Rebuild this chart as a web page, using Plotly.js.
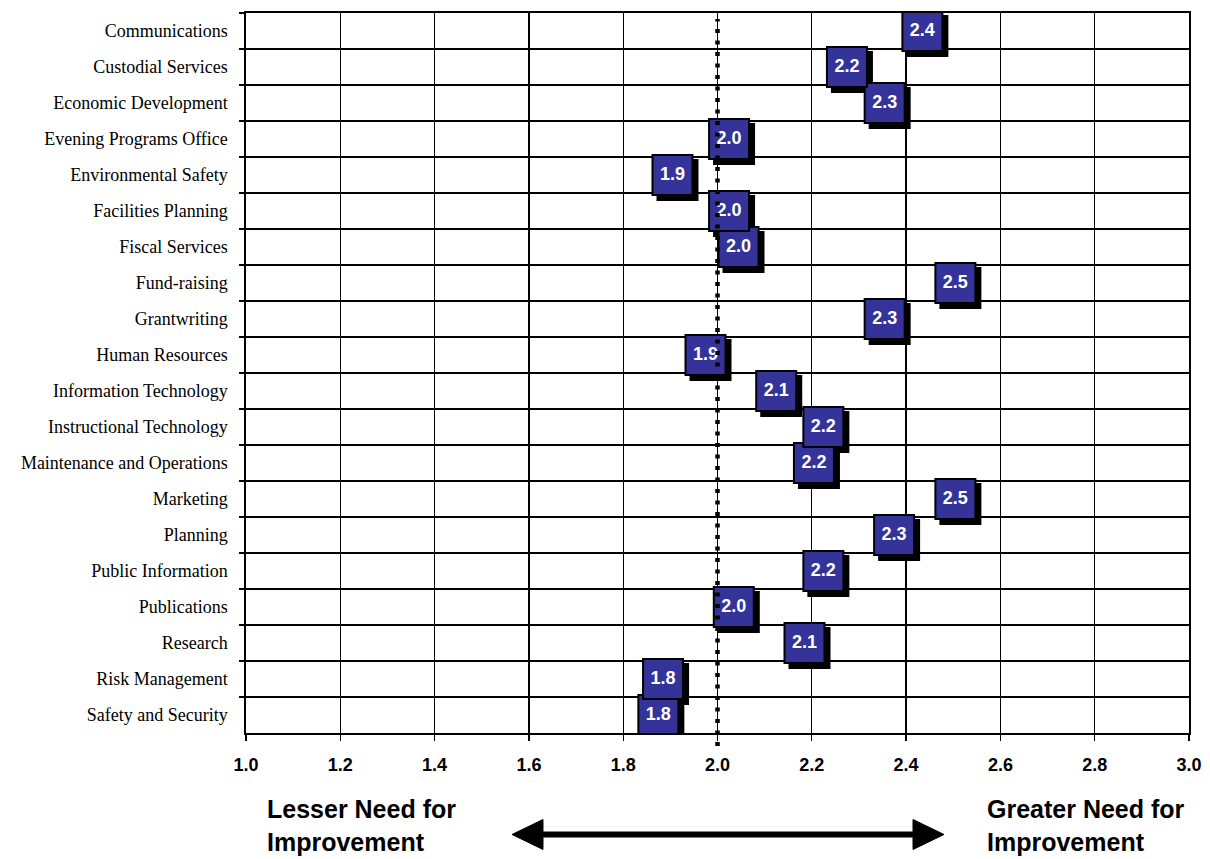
<!DOCTYPE html>
<html>
<head>
<meta charset="utf-8">
<script src="https://cdn.plot.ly/plotly-3.0.1.min.js"></script>
<style>
  html, body { margin: 0; padding: 0; background: #ffffff; }
  #chart { width: 1210px; height: 859px; }
</style>
</head>
<body>
<div id="chart"></div>
<script>
// Departments, listed top to bottom
const categories = [
  'Communications', 'Custodial Services', 'Economic Development',
  'Evening Programs Office', 'Environmental Safety', 'Facilities Planning',
  'Fiscal Services', 'Fund-raising', 'Grantwriting', 'Human Resources',
  'Information Technology', 'Instructional Technology',
  'Maintenance and Operations', 'Marketing', 'Planning',
  'Public Information', 'Publications', 'Research', 'Risk Management',
  'Safety and Security'
];

// Mean rating of need for improvement (1 = lesser, 3 = greater)
const scores = [
  2.39, 2.23, 2.31, 1.98, 1.86, 1.98, 2.00, 2.46, 2.31, 1.93,
  2.08, 2.18, 2.16, 2.46, 2.33, 2.18, 1.99, 2.14, 1.84, 1.83
];

const xTicks = [1.0, 1.2, 1.4, 1.6, 1.8, 2.0, 2.2, 2.4, 2.6, 2.8, 3.0];
const midpoint = 2.0;
const lowLabel = 'Lesser Need for<br>Improvement';
const highLabel = 'Greater Need for<br>Improvement';

// Frame geometry
const W = 1210, H = 859;
const margin = { l: 246, r: 21, t: 13, b: 126 };
const plotW = W - margin.l - margin.r;
const plotH = H - margin.t - margin.b;
const xRange = [1, 3];
const pxToX = px => px * (xRange[1] - xRange[0]) / plotW;
const rowPx = plotH / categories.length;

// Label boxes sit to the right of each point, with a drop shadow
const boxSize = 40;
const boxShift = pxToX(boxSize / 2 + 1);
const shadowShift = pxToX(boxSize / 2 + 6);
const shadowDrop = 5 / rowPx;

const yRange = [categories.length - 0.5, -0.5];

// Draw upper rows last so they sit on top where boxes overlap
const order = categories.map((_, i) => i).reverse();
const ptsY = order.map(i => categories[i]);
const ptsX = order.map(i => scores[i]);
const ptsText = order.map(i => scores[i].toFixed(1));

const shadowTrace = {
  type: 'scatter', mode: 'markers',
  x: ptsX, y: ptsY, xaxis: 'x2', yaxis: 'y2',
  marker: { symbol: 'square', size: boxSize + 2, color: '#000000', line: { width: 0 } },
  hoverinfo: 'skip', showlegend: false
};

const boxTrace = {
  type: 'scatter', mode: 'markers+text',
  x: ptsX, y: ptsY, xaxis: 'x3', yaxis: 'y',
  text: ptsText, textposition: 'middle center',
  textfont: { family: 'Liberation Sans, Arial, sans-serif', size: 18, color: '#ffffff', weight: 'bold' },
  marker: { symbol: 'square', size: boxSize, color: '#333399', line: { width: 2, color: '#000000' } },
  hovertemplate: '%{y}: %{x:.2f}<extra></extra>', showlegend: false
};

// Paper coordinates from frame pixels (for the legend arrow below the axis)
const px2paperX = px => (px - margin.l) / plotW;
const px2paperY = py => (margin.t + plotH - py) / plotH;

const arrowY = 834.5;
const arrowLeft = 512, arrowRight = 944, headLen = 31, headHalf = 15;

function tri(tipX, baseX) {
  const p = (x, y) => px2paperX(x).toFixed(5) + ',' + px2paperY(y).toFixed(5);
  return 'M' + p(tipX, arrowY) + ' L' + p(baseX, arrowY - headHalf) + ' L' + p(baseX, arrowY + headHalf) + ' Z';
}

const layout = {
  width: W, height: H,
  margin: margin,
  paper_bgcolor: '#ffffff', plot_bgcolor: '#ffffff',
  showlegend: false,
  font: { family: 'Liberation Sans, Arial, sans-serif', color: '#000000' },
  xaxis: {
    range: xRange, tickvals: xTicks, ticktext: xTicks.map(v => v.toFixed(1)),
    showgrid: true, gridcolor: '#000000', gridwidth: 1.4,
    showline: true, linecolor: '#000000', linewidth: 1.6, mirror: true,
    ticks: 'outside', ticklen: 6, tickwidth: 1.4, tickcolor: '#000000',
    ticklabelstandoff: 9,
    tickfont: { family: 'Liberation Sans, Arial, sans-serif', size: 18, weight: 'bold', color: '#000000' },
    zeroline: false, fixedrange: true
  },
  xaxis2: { overlaying: 'x', range: [xRange[0] - shadowShift, xRange[1] - shadowShift], visible: false, fixedrange: true },
  xaxis3: { overlaying: 'x', range: [xRange[0] - boxShift, xRange[1] - boxShift], visible: false, fixedrange: true },
  yaxis: {
    type: 'category', categoryorder: 'array', categoryarray: categories,
    range: yRange, tickson: 'boundaries',
    showgrid: true, gridcolor: '#000000', gridwidth: 1.4,
    showline: true, linecolor: '#000000', linewidth: 1.6, mirror: true,
    ticks: 'outside', ticklen: 5, tickwidth: 1.4, tickcolor: '#000000',
    ticklabelstandoff: 13,
    tickfont: { family: 'Liberation Serif, Times New Roman, serif', size: 18, color: '#000000' },
    zeroline: false, fixedrange: true
  },
  yaxis2: {
    type: 'category', categoryorder: 'array', categoryarray: categories,
    overlaying: 'y', range: [yRange[0] - shadowDrop, yRange[1] - shadowDrop],
    visible: false, fixedrange: true
  },
  shapes: [
    // dotted reference line at the scale midpoint
    {
      type: 'line', layer: 'above', xref: 'x', yref: 'paper',
      x0: midpoint, x1: midpoint, y0: px2paperY(746), y1: px2paperY(19),
      line: { color: '#000000', width: 4.5, dash: '4px,7.5px' }
    },
    // double-headed arrow
    {
      type: 'line', xref: 'paper', yref: 'paper',
      x0: px2paperX(arrowLeft + headLen - 2), x1: px2paperX(arrowRight - headLen + 2),
      y0: px2paperY(arrowY), y1: px2paperY(arrowY),
      line: { color: '#000000', width: 6 }
    },
    {
      type: 'path', xref: 'paper', yref: 'paper', path: tri(arrowLeft, arrowLeft + headLen),
      fillcolor: '#000000', line: { color: '#000000', width: 1 }
    },
    {
      type: 'path', xref: 'paper', yref: 'paper', path: tri(arrowRight, arrowRight - headLen),
      fillcolor: '#000000', line: { color: '#000000', width: 1 }
    }
  ],
  annotations: [
    {
      text: lowLabel, xref: 'paper', yref: 'paper',
      x: px2paperX(265), y: px2paperY(793), xanchor: 'left', yanchor: 'top',
      align: 'left', showarrow: false,
      font: { family: 'Liberation Sans, Arial, sans-serif', size: 25, weight: 'bold', color: '#000000' }
    },
    {
      text: highLabel, xref: 'paper', yref: 'paper',
      x: px2paperX(985), y: px2paperY(793), xanchor: 'left', yanchor: 'top',
      align: 'left', showarrow: false,
      font: { family: 'Liberation Sans, Arial, sans-serif', size: 25, weight: 'bold', color: '#000000' }
    }
  ]
};

Plotly.newPlot('chart', [shadowTrace, boxTrace], layout, { displayModeBar: false, staticPlot: true });
</script>
</body>
</html>
